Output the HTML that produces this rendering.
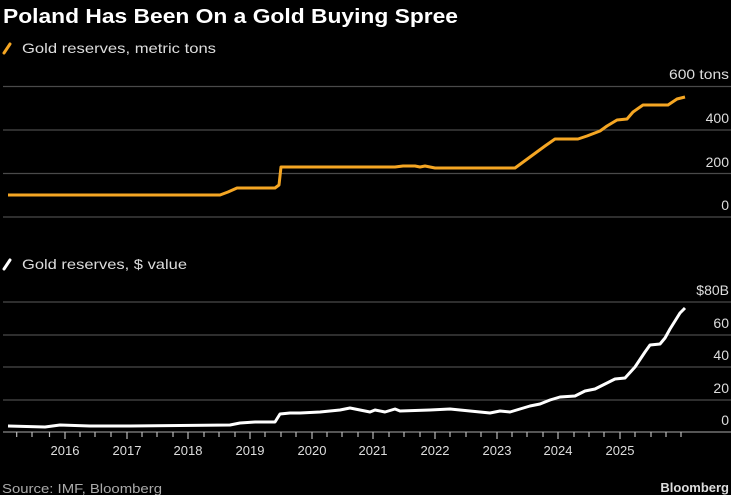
<!DOCTYPE html>
<html><head><meta charset="utf-8"><style>
html,body{margin:0;padding:0;background:#000;}
svg{display:block;font-family:"Liberation Sans",sans-serif;}
</style></head><body>
<svg width="731" height="495" viewBox="0 0 731 495" xmlns="http://www.w3.org/2000/svg">
<rect width="731" height="495" fill="#000"/>
<text x="3" y="23" fill="#fff" font-size="20" font-weight="bold" textLength="455" lengthAdjust="spacingAndGlyphs">Poland Has Been On a Gold Buying Spree</text>
<line x1="4" y1="53" x2="10" y2="44" stroke="#f5a623" stroke-width="3" stroke-linecap="round"/>
<text x="22" y="53" fill="#ddd" font-size="14" textLength="194" lengthAdjust="spacingAndGlyphs">Gold reserves, metric tons</text>
<g stroke="#4a4a4a" stroke-width="1.2">
<line x1="3" y1="86.5" x2="731" y2="86.5"/>
<line x1="3" y1="130" x2="731" y2="130"/>
<line x1="3" y1="173.5" x2="731" y2="173.5"/>
<line x1="3" y1="217" x2="731" y2="217"/>
</g>
<g fill="#ddd" font-size="14" text-anchor="end">
<text x="729" y="79" textLength="60" lengthAdjust="spacingAndGlyphs">600 tons</text>
<text x="729" y="123">400</text>
<text x="729" y="167">200</text>
<text x="729" y="210">0</text>
</g>
<polyline fill="none" stroke="#f5a623" stroke-width="3" stroke-linejoin="round" points="8,195 220,195 228,192 237,188 275,188 279,185 281,167 395,167 403,166 415,166 420,167 425,166 430,167 435,168 515,168 545,146 555,139 578,139 587,136 600,131 607,126 617,120 627,119 633,112 643,105 668,105 677,99 685,97"/>

<line x1="4" y1="269" x2="10" y2="260" stroke="#fff" stroke-width="3" stroke-linecap="round"/>
<text x="22" y="269" fill="#ddd" font-size="14" textLength="165" lengthAdjust="spacingAndGlyphs">Gold reserves, $ value</text>
<g stroke="#4a4a4a" stroke-width="1.2">
<line x1="3" y1="302" x2="731" y2="302"/>
<line x1="3" y1="335" x2="731" y2="335"/>
<line x1="3" y1="367" x2="731" y2="367"/>
<line x1="3" y1="400" x2="731" y2="400"/>
</g>
<line x1="3" y1="432" x2="731" y2="432" stroke="#888" stroke-width="1.2"/>
<g fill="#ddd" font-size="14" text-anchor="end">
<text x="729" y="295">$80B</text>
<text x="729" y="328">60</text>
<text x="729" y="360">40</text>
<text x="729" y="393">20</text>
<text x="729" y="425">0</text>
</g>
<polyline fill="none" stroke="#fff" stroke-width="3" stroke-linejoin="round" points="8,426 45,427 60,425 90,426 130,426 230,425 240,423 255,422 275,422 280,414 290,413 300,413 320,412 340,410 350,408 360,410 370,412 375,410 385,412 395,409 400,411 430,410 450,409 470,411 490,413 500,411 510,412 520,409 530,406 540,404 550,400 560,397 575,396 585,391 595,389 605,384 615,379 625,378 635,367 645,352 650,345 660,344 665,338 670,329 680,313 685,308"/>
<g stroke="#bbb" stroke-width="1.2">
<line x1="16.7" y1="432" x2="16.7" y2="437"/><line x1="32" y1="432" x2="32" y2="437"/><line x1="49.5" y1="432" x2="49.5" y2="437"/><line x1="65" y1="432" x2="65" y2="439"/>
<line x1="80" y1="432" x2="80" y2="437"/><line x1="95" y1="432" x2="95" y2="437"/><line x1="111" y1="432" x2="111" y2="437"/><line x1="127" y1="432" x2="127" y2="439"/>
<line x1="142" y1="432" x2="142" y2="437"/><line x1="157" y1="432" x2="157" y2="437"/><line x1="173" y1="432" x2="173" y2="437"/><line x1="188" y1="432" x2="188" y2="439"/>
<line x1="204" y1="432" x2="204" y2="437"/><line x1="219" y1="432" x2="219" y2="437"/><line x1="235" y1="432" x2="235" y2="437"/><line x1="250" y1="432" x2="250" y2="439"/>
<line x1="265" y1="432" x2="265" y2="437"/><line x1="281" y1="432" x2="281" y2="437"/><line x1="296" y1="432" x2="296" y2="437"/><line x1="312" y1="432" x2="312" y2="439"/>
<line x1="327" y1="432" x2="327" y2="437"/><line x1="342" y1="432" x2="342" y2="437"/><line x1="358" y1="432" x2="358" y2="437"/><line x1="373" y1="432" x2="373" y2="439"/>
<line x1="389" y1="432" x2="389" y2="437"/><line x1="404" y1="432" x2="404" y2="437"/><line x1="420" y1="432" x2="420" y2="437"/><line x1="435" y1="432" x2="435" y2="439"/>
<line x1="450" y1="432" x2="450" y2="437"/><line x1="466" y1="432" x2="466" y2="437"/><line x1="481" y1="432" x2="481" y2="437"/><line x1="497" y1="432" x2="497" y2="439"/>
<line x1="512" y1="432" x2="512" y2="437"/><line x1="527" y1="432" x2="527" y2="437"/><line x1="543" y1="432" x2="543" y2="437"/><line x1="558" y1="432" x2="558" y2="439"/>
<line x1="574" y1="432" x2="574" y2="437"/><line x1="589" y1="432" x2="589" y2="437"/><line x1="604" y1="432" x2="604" y2="437"/><line x1="620" y1="432" x2="620" y2="439"/>
<line x1="635" y1="432" x2="635" y2="437"/><line x1="651" y1="432" x2="651" y2="437"/><line x1="666" y1="432" x2="666" y2="437"/><line x1="681" y1="432" x2="681" y2="437"/>
</g>
<g fill="#ddd" font-size="13" text-anchor="middle">
<text x="65" y="455">2016</text><text x="127" y="455">2017</text><text x="188" y="455">2018</text><text x="250" y="455">2019</text><text x="312" y="455">2020</text><text x="373" y="455">2021</text><text x="435" y="455">2022</text><text x="497" y="455">2023</text><text x="558" y="455">2024</text><text x="620" y="455">2025</text>
</g>
<text x="2" y="493" fill="#aaa" font-size="13" textLength="160" lengthAdjust="spacingAndGlyphs">Source: IMF, Bloomberg</text>
<text x="729" y="492" fill="#ddd" font-size="13" font-weight="bold" text-anchor="end">Bloomberg</text>
</svg>
</body></html>
